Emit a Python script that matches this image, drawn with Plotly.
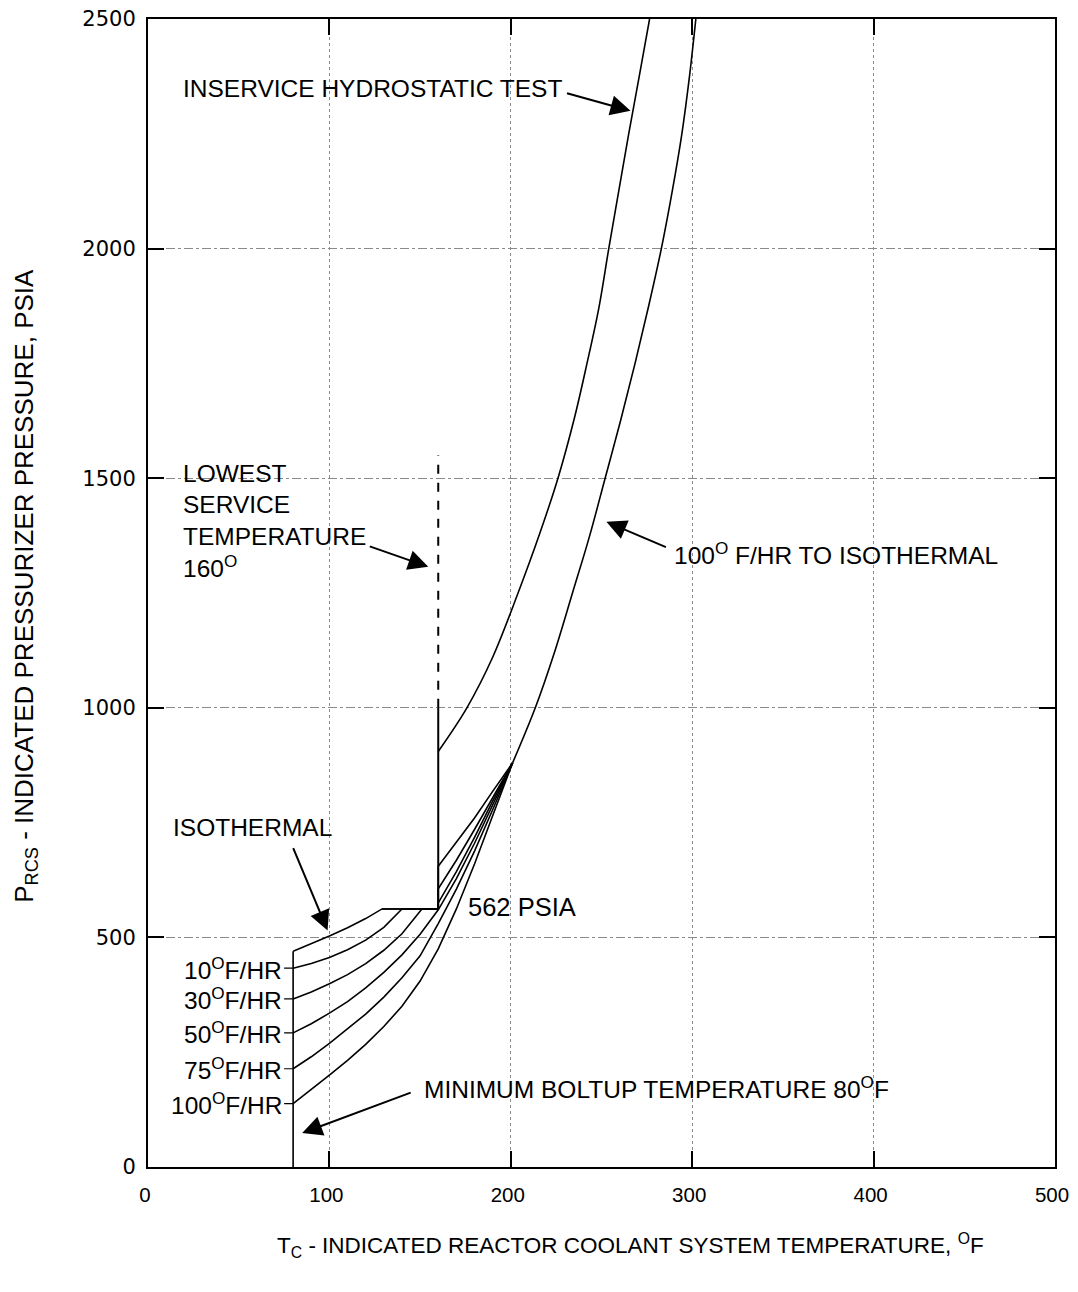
import plotly.graph_objects as go

# ---------------- data ----------------
# Heatup curves: T (deg F) and P (psia)
iso_T = [80, 90, 100, 110, 120, 129, 160, 160, 170, 180, 190, 201]
iso_P = [470, 486, 503, 521, 541, 562, 562, 655, 707, 760, 818, 880]

r10_T = [80, 90, 100, 110, 120, 130, 140, 160, 160, 170, 180, 190, 201]
r10_P = [433, 443, 456, 473, 494, 522, 562, 562, 606, 668, 735, 805, 880]

r30_T = [80, 90, 100, 110, 120, 130, 140, 151, 160, 160, 170, 180, 190, 201]
r30_P = [366, 381, 399, 419, 443, 472, 508, 562, 562, 575, 643, 718, 797, 880]

r50_T = [80, 90, 100, 110, 120, 130, 140, 150, 160, 170, 180, 190, 201]
r50_P = [292, 312, 335, 360, 390, 424, 462, 507, 560, 628, 705, 788, 880]

r75_T = [80, 90, 100, 110, 120, 130, 140, 150, 160, 170, 180, 190, 201]
r75_P = [214, 240, 269, 300, 333, 370, 412, 460, 530, 605, 688, 778, 880]

r100_T = [80, 90, 100, 110, 120, 130, 140, 150, 160, 170, 180, 190, 201]
r100_P = [138, 168, 200, 232, 267, 306, 350, 405, 475, 562, 660, 765, 880]

# 100 F/HR to isothermal (common curve above convergence)
cont_T = [201, 213.5, 224, 234, 243.5, 252, 260.5, 268.5, 276, 283, 289, 294.3, 298.5, 302]
cont_P = [880, 1000, 1120, 1250, 1375, 1500, 1625, 1750, 1875, 2000, 2125, 2250, 2375, 2500]

# Inservice hydrostatic test
hyd_T = [160, 175.8, 190, 204, 216, 226, 235, 242, 248.5, 254, 259.5, 265, 270.8, 276.5]
hyd_P = [905, 1000, 1110, 1250, 1380, 1500, 1630, 1750, 1870, 2000, 2125, 2250, 2375, 2500]

# Structural limit lines
boltup_T = [80, 80]
boltup_P = [0, 470]
lst_solid_T = [160, 160]
lst_solid_P = [562, 1000]
lst_dash_T = [160, 160]
lst_dash_P = [1000, 1550]
cap_T = [129, 160]
cap_P = [562, 562]

rate_labels = ["10", "30", "50", "75", "100"]
rate_curves = [(r10_T, r10_P), (r30_T, r30_P), (r50_T, r50_P), (r75_T, r75_P), (r100_T, r100_P)]

x_ticks = [0, 100, 200, 300, 400, 500]
y_ticks = [0, 500, 1000, 1500, 2000, 2500]

FONT = "Liberation Sans, Arial, Helvetica, sans-serif"
BLACK = "black"
TXT = 24.5

fig = go.Figure()

def add_line(T, P, dash="solid", width=1.6, shape="linear"):
    fig.add_trace(go.Scatter(x=T, y=P, mode="lines",
                             line=dict(color=BLACK, width=width, dash=dash, shape=shape),
                             showlegend=False, hoverinfo="skip"))

add_line(iso_T, iso_P)
for T, P in rate_curves:
    add_line(T, P)
add_line(cont_T, cont_P, shape="spline")
add_line(hyd_T, hyd_P, shape="spline")
add_line(boltup_T, boltup_P)
add_line(lst_solid_T, lst_solid_P, width=2)
add_line(lst_dash_T, lst_dash_P, dash="dash", width=2)
add_line(cap_T, cap_P)

# ---------------- annotations ----------------
ann = []

def text(x, y, s, xanchor="left", size=TXT):
    ann.append(dict(x=x, y=y, xref="x", yref="y", text=s, showarrow=False,
                    xanchor=xanchor, yanchor="middle",
                    font=dict(family=FONT, size=size, color=BLACK)))

def arrow(x, y, ax, ay):
    ann.append(dict(x=x, y=y, xref="x", yref="y", text="", showarrow=True,
                    ax=ax, ay=ay, arrowhead=2, arrowsize=2.0, arrowwidth=2,
                    arrowcolor=BLACK, standoff=0, startstandoff=0))

text(18, 2348, "INSERVICE HYDROSTATIC TEST")
arrow(266, 2300, -65, -18)

text(18, 1510, "LOWEST")
text(18, 1442, "SERVICE")
text(18, 1374, "TEMPERATURE")
text(18, 1308, "160<sup>O</sup>")
arrow(154.5, 1307, -60, -21)

text(289, 1336, "100<sup>O</sup> F/HR TO ISOTHERMAL")
arrow(252.7, 1405, 61, 26)

text(12.5, 740, "ISOTHERMAL")
arrow(99, 515, -35, -84)

text(175.5, 566, "562 PSIA", size=25.5)

text(151, 174, "MINIMUM BOLTUP TEMPERATURE 80<sup>O</sup>F")
arrow(85, 74, 110, -41)

for lab, (T, P) in zip(rate_labels, rate_curves):
    ann.append(dict(x=T[0], y=P[0], xref="x", yref="y",
                    text=lab + "<sup>O</sup>F/HR", showarrow=True,
                    ax=-9, ay=0, arrowhead=0, arrowwidth=1.2, arrowcolor=BLACK,
                    xanchor="right", yanchor="middle", standoff=0,
                    font=dict(family=FONT, size=TXT, color=BLACK)))

# axis titles
ann.append(dict(x=0.532, y=-0.068, xref="paper", yref="paper",
                text="T<sub>C</sub> - INDICATED REACTOR COOLANT SYSTEM TEMPERATURE, <sup>O</sup>F",
                showarrow=False, xanchor="center", yanchor="middle",
                font=dict(family=FONT, size=22.5, color=BLACK)))
ann.append(dict(x=-0.136, y=0.506, xref="paper", yref="paper",
                text="P<sub>RCS</sub> - INDICATED PRESSURIZER PRESSURE, PSIA",
                showarrow=False, xanchor="center", yanchor="middle", textangle=-90,
                font=dict(family=FONT, size=26, color=BLACK)))

# page body has an 8px margin: keep the figure inside the window so nothing scrolls
fig.update_layout(
    width=1062, height=1276,
    margin=dict(l=140, r=15, t=11, b=117, autoexpand=False),
    paper_bgcolor="white", plot_bgcolor="white",
    annotations=ann,
    showlegend=False,
)

axis_common = dict(showline=True, linecolor=BLACK, linewidth=2, mirror="ticks",
                   ticks="inside", ticklen=16, tickwidth=2, tickcolor=BLACK,
                   zeroline=False, showgrid=True, gridcolor="#8a8a8a", gridwidth=1,
                   automargin=False, ticklabeloverflow="allow")

fig.update_xaxes(range=[0, 500], tickvals=x_ticks, griddash="dot",
                 tickfont=dict(family=FONT, size=20.5, color=BLACK),
                 ticklabelstandoff=8, ticklabelshift=-3, **axis_common)
fig.update_yaxes(range=[0, 2500], tickvals=y_ticks, griddash="dashdot",
                 tickfont=dict(family="DejaVu Sans, Liberation Sans, sans-serif", size=21, color=BLACK),
                 ticklabelstandoff=6, **axis_common)

fig.write_html("out.html")
